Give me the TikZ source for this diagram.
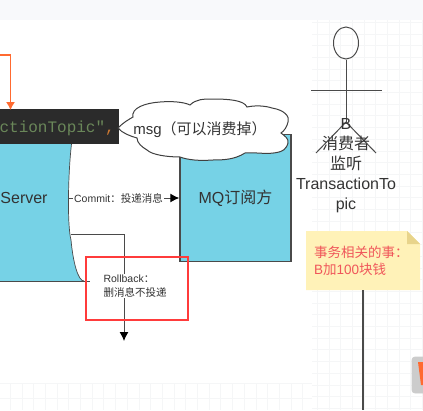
\documentclass[tikz,border=0pt]{standalone}
\usepackage{fontspec}
\usetikzlibrary{arrows.meta, shapes.geometric}
\setmainfont{Liberation Sans}
\setmonofont{Liberation Mono}
\newfontfamily\cjk{Noto Sans CJK SC}
\definecolor{boxblue}{HTML}{76D2E6}
\definecolor{darkline}{HTML}{4A4A4A}
\definecolor{barcode}{HTML}{2B2B2B}
\definecolor{codegreen}{HTML}{6A8759}
\definecolor{codeorange}{HTML}{CC7832}
\definecolor{arroworange}{HTML}{FF6A30}
\definecolor{markred}{HTML}{FF3B3B}
\definecolor{notefill}{HTML}{FFF2B8}
\definecolor{notefold}{HTML}{E8D48B}
\definecolor{notetext}{HTML}{F0565A}
\definecolor{gridline}{HTML}{F5F6F7}
\definecolor{topstrip}{HTML}{F8F9FB}
\tikzset{
	lbl/.style = {inner sep=0pt, text=black!80},
	small/.style = {lbl, font=\fontsize{10.5}{14}\selectfont, fill=white, inner sep=1pt},
	actor/.style = {lbl, font=\fontsize{16}{20}\selectfont, align=center},
	flow/.style = {darkline, line width=1pt},
	tipflow/.style = {flow, -{Latex[length=9pt,width=9pt,black]}},
}
\begin{document}
\begin{tikzpicture}[x=1pt, y=-1pt]
	\useasboundingbox (0,0) rectangle (423,410);
	% page background
	\fill[topstrip] (0,0) rectangle (423,20);
	\foreach \gx in {317,328.7,...,423} \draw[gridline] (\gx,20) -- (\gx,410);
	\foreach \gy in {22,33.7,...,410} \draw[gridline] (312,\gy) -- (423,\gy);
	\foreach \gx in {10,21.7,...,312} \draw[gridline] (\gx,383) -- (\gx,410);
	\foreach \gy in {383,398} \draw[gridline] (0,\gy) -- (312,\gy);
	% server
	\fill[boxblue] (0,140) -- (72,140) .. controls (68,170) and (67,225) .. (71,240) .. controls (73,262) and (78,281) .. (84,281) -- (0,281) -- cycle;
	\draw[darkline, line width=0.7pt] (72,140) .. controls (68,170) and (67,225) .. (71,240) .. controls (73,262) and (78,281) .. (84,281);
	\draw[darkline, line width=1pt] (0,281) -- (90,281);
	\node[lbl, font=\fontsize{16}{16}\selectfont] (server) at (24,198) {Server};
	% subscriber
	\node[draw=darkline, line width=1.5pt, fill=boxblue, minimum width=111pt, minimum height=127pt, inner sep=0pt, font=\fontsize{16}{16}\selectfont, text=black!80] (mq) at (235.5,198) {MQ{\cjk 订阅方}};
	% connectors
	\coordinate (commitstart) at (68,198);
	\coordinate (rollstart) at (71,234);
	\coordinate (rollbend) at (124,234);
	\coordinate (rollend) at (124,341);
	\draw[tipflow] (commitstart) -- (mq.west);
	\node[small] (commit) at (118.5,198) {Commit{\cjk ：投递消息}};
	\draw[tipflow] (rollstart) -- (rollbend) -- (rollend);
	\node[small, align=left, fill=white] (rollback) at (135,286) {Rollback{\cjk ：}\\{\cjk 删消息不投递}};
	% red mark
	\node[draw=markred, line width=2.8pt, minimum width=102pt, minimum height=63pt, inner sep=0pt] (mark) at (137,288.5) {};
	% code bar
	\fill[barcode] (0,109) rectangle (119,144);
	\node[anchor=east, inner sep=0pt, font=\ttfamily\fontsize{16}{16}\selectfont, text=codegreen] (code) at (115,128) {ctionTopic"\textcolor{codeorange}{,}};
	% orange arrow
	\coordinate (orangestart) at (0,55);
	\coordinate (orangebend) at (10.5,55);
	\coordinate (orangeend) at (10.5,110);
	\draw[arroworange, line width=1.2pt, -{Latex[length=8pt,width=9pt]}] (orangestart) -- (orangebend) -- (orangeend);
	% cloud
	\draw[fill=white, draw=black!75, line width=1pt] (118,128) .. controls (124,122) and (128,120) .. (133,117)
		.. controls (131,108) and (145,103) .. (160,102)
		.. controls (172,101) and (184,102) .. (190,105)
		.. controls (196,99) and (204,99) .. (212,99)
		.. controls (228,99) and (244,100) .. (247,107)
		.. controls (256,105) and (266,106) .. (272,108)
		.. controls (284,110) and (290,116) .. (288,122)
		.. controls (287,127) and (284,131) .. (281,133)
		.. controls (285,136) and (289,139) .. (288,143)
		.. controls (286,150) and (282,151) .. (279,152)
		.. controls (268,155) and (256,152) .. (245,153)
		.. controls (234,160) and (222,160) .. (212,160)
		.. controls (200,161) and (188,160) .. (180,157)
		.. controls (168,157) and (152,155) .. (147,150)
		.. controls (142,147) and (137,143) .. (137,138)
		.. controls (130,136) and (122,133) .. (118,128) -- cycle;
	\node[lbl, font=\fontsize{15}{15}\selectfont] (msg) at (200,130) {msg{\cjk （可以消费掉）}};
	% actor
	\node[draw=darkline, line width=1pt, ellipse, minimum width=25pt, minimum height=32pt, inner sep=0pt] (head) at (346,43) {};
	\coordinate (hip) at (346,122);
	\coordinate (armleft) at (311,90);
	\coordinate (armright) at (382,90);
	\coordinate (legleft) at (316,153);
	\coordinate (legright) at (376,153);
	\draw[darkline, line width=1pt] (head.south) -- (hip);
	\draw[darkline, line width=1pt] (armleft) -- (armright);
	\draw[darkline, line width=1pt] (legleft) -- (hip) -- (legright);
	\node[actor, anchor=north] (actorlabel) at (346,118) {B\\{\cjk 消费者}\\{\cjk 监听}\\TransactionTo\\pic};
	% note
	\coordinate (lineend) at (363,410);
	\fill[notefill] (306,231) -- (407,231) -- (420,244) -- (420,290) -- (306,290) -- cycle;
	\fill[notefold] (407,231) -- (420,244) -- (407,244) -- cycle;
	\node[anchor=west, inner sep=0pt, text=notetext, align=left, font=\fontsize{13.5}{17}\selectfont] (note) at (314,261) {{\cjk 事务相关的事：}\\B{\cjk 加}100{\cjk 块钱}};
	\coordinate (linestart) at (363,290);
	\draw[darkline, line width=1.2pt] (linestart) -- (lineend);
	% corner icon
	\draw[fill=white, black!20, line width=0.8pt, rounded corners=3pt] (412,357) rectangle (430,393);
	\fill[arroworange] (418,362) -- (423,362) -- (423,385) -- (421,385) -- cycle;
\end{tikzpicture}
\end{document}
